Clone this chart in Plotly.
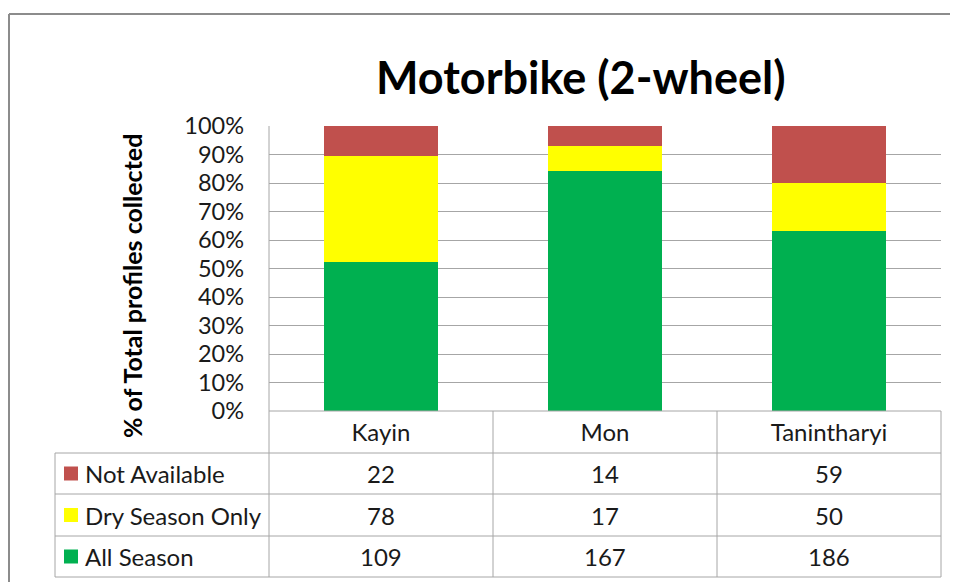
import plotly.graph_objects as go

regions = ["Kayin", "Mon", "Tanintharyi"]
series = ["All Season", "Dry Season Only", "Not Available"]
all_season = [109, 167, 186]
dry_season = [78, 17, 50]
not_available = [22, 14, 59]
colors = ["#00B050", "#FFFF00", "#C0504D"]

values = [all_season, dry_season, not_available]

# page body has an 8px margin: shift everything 8px up/left
OFF = 8
W, H = 958 - OFF, 582 - OFF
L, R, T, B = 269, 941, 126, 411   # plot area in reference pixels
FONT = "Lato"
GRID = "#a6a6a6"
TXT = "#1a1a1a"


def px(x):
    return (x - L) / (R - L)


def py(y):
    return (B - y) / (B - T)


fig = go.Figure()
for name, vals, col in zip(series, values, colors):
    fig.add_trace(go.Bar(x=regions, y=vals, name=name, marker_color=col,
                         marker_line_width=0))

shapes = []
line = dict(color=GRID, width=1)
# outer chart border (only top and left edges are inside the picture)
border = dict(color="#8c8c8c", width=2)
shapes.append(dict(type="line", xref="paper", yref="paper",
                   x0=px(9), x1=px(960), y0=py(14), y1=py(14), line=border))
shapes.append(dict(type="line", xref="paper", yref="paper",
                   x0=px(9), x1=px(9), y0=py(14), y1=py(590), line=border))
# table grid
rows = [453, 494, 536, 577]
for r in rows:
    shapes.append(dict(type="line", xref="paper", yref="paper",
                       x0=px(55), x1=px(R), y0=py(r), y1=py(r), line=line))
shapes.append(dict(type="line", xref="paper", yref="paper",
                   x0=px(L), x1=px(R), y0=py(B), y1=py(B), line=line))
shapes.append(dict(type="line", xref="paper", yref="paper",
                   x0=px(55), x1=px(55), y0=py(453), y1=py(577), line=line))
shapes.append(dict(type="line", xref="paper", yref="paper",
                   x0=0, x1=0, y0=py(T), y1=py(577), line=line))
for i in range(1, len(regions) + 1):
    xx = i / len(regions)
    shapes.append(dict(type="line", xref="paper", yref="paper",
                       x0=xx, x1=xx, y0=py(B), y1=py(577), line=line))

annotations = []
# table rows, top row is the top series
row_centers = [473.5, 515, 556.5]
for k, idx in enumerate([2, 1, 0]):
    yc = py(row_centers[k])
    shapes.append(dict(type="rect", xref="paper", yref="paper",
                       x0=px(64), x1=px(78), y0=py(row_centers[k] - 7),
                       y1=py(row_centers[k] + 7),
                       fillcolor=colors[idx], line=dict(width=0)))
    annotations.append(dict(text=series[idx], xref="paper", yref="paper",
                            x=px(83), y=yc, xanchor="left", yanchor="middle",
                            showarrow=False, font=dict(size=24, color=TXT)))
    for reg, v in zip(regions, values[idx]):
        annotations.append(dict(text=str(v), xref="x", yref="paper",
                                x=reg, y=yc, xanchor="center", yanchor="middle",
                                showarrow=False, font=dict(size=24, color=TXT)))

# y axis title
annotations.append(dict(text="<b>% of Total profiles collected</b>",
                        xref="paper", yref="paper", x=px(132), y=py(286),
                        textangle=-90, showarrow=False,
                        xanchor="center", yanchor="middle",
                        font=dict(size=25, color="#000")))
# chart title
annotations.append(dict(text="<b>Motorbike (2-wheel)</b>",
                        xref="paper", yref="paper", x=px(581), y=py(77),
                        showarrow=False, xanchor="center", yanchor="middle",
                        font=dict(size=45, color="#000")))

fig.update_layout(
    width=W, height=H,
    margin=dict(l=L - OFF, r=W - (R - OFF), t=T - OFF, b=H - (B - OFF), pad=0),
    barmode="stack", barnorm="percent", bargap=0.49,
    showlegend=False,
    plot_bgcolor="white", paper_bgcolor="white",
    font=dict(family=FONT, color=TXT),
    shapes=shapes, annotations=annotations,
    xaxis=dict(showgrid=False, showline=False, ticks="",
               ticklabelstandoff=5, tickfont=dict(size=24, color=TXT)),
    yaxis=dict(range=[0, 100], dtick=10, ticksuffix="%",
               showgrid=True, gridcolor=GRID, gridwidth=1,
               zeroline=False, showline=False, ticks="",
               ticklabelstandoff=24, tickfont=dict(size=23.5, color=TXT)),
)

fig.write_html("out.html", config={"displayModeBar": False})
